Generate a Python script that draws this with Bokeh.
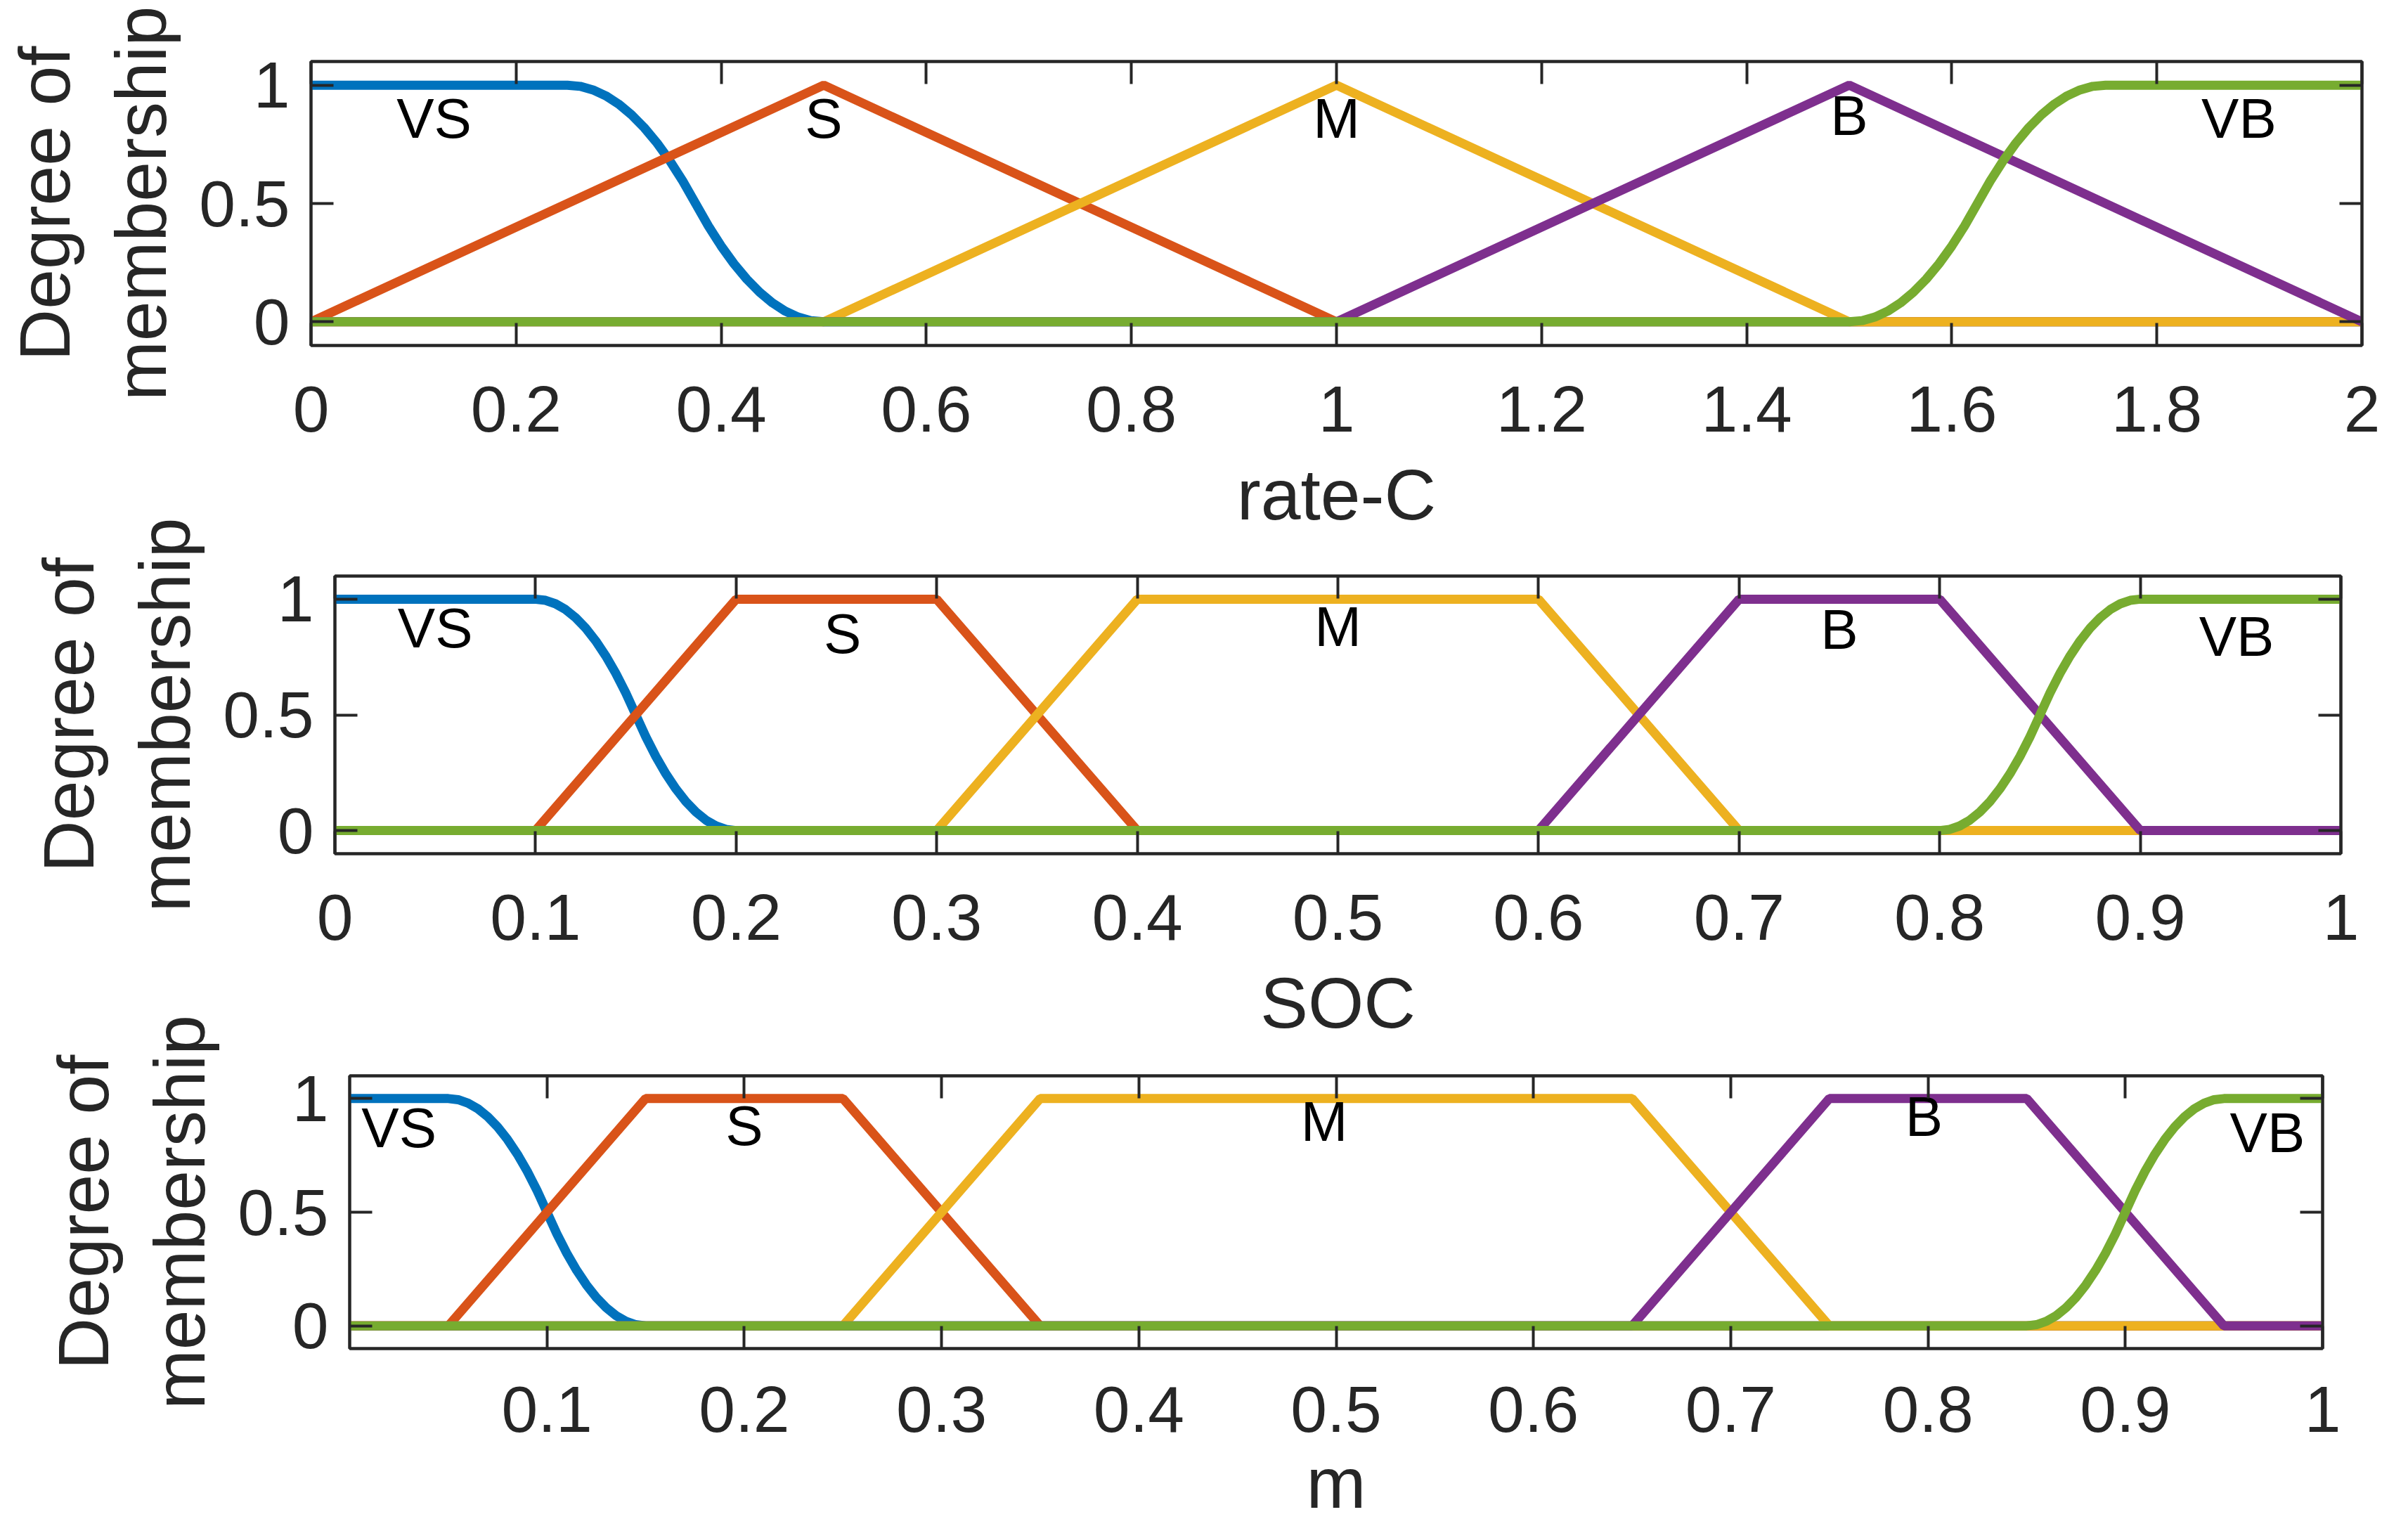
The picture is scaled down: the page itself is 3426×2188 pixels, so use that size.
from bokeh.plotting import figure
from bokeh.models import LinearAxis, FixedTicker, Range1d
from bokeh.embed import file_html
from bokeh.resources import INLINE
from bokeh.core.properties import value

FONT = "Liberation Sans"
AX_COLOR = "#262626"
COLORS = ["#0072BD", "#D95319", "#EDB120", "#7E2F8E", "#77AC30"]
SET_NAMES = ["VS", "S", "M", "B", "VB"]

# ---------------- Panel 1: rate-C ----------------
rate_vs_x = [0, 0.25, 0.2625, 0.275, 0.2875, 0.3, 0.3125, 0.325, 0.3375, 0.35, 0.3625, 0.375,
             0.3875, 0.4, 0.4125, 0.425, 0.4375, 0.45, 0.4625, 0.475, 0.4875, 0.5, 2]
rate_vs_y = [1, 1, 0.995, 0.98, 0.955, 0.92, 0.875, 0.82, 0.755, 0.68, 0.595, 0.5,
             0.405, 0.32, 0.245, 0.18, 0.125, 0.08, 0.045, 0.02, 0.005, 0, 0]
rate_s_x = [0, 0.5, 1, 2]
rate_s_y = [0, 1, 0, 0]
rate_m_x = [0, 0.5, 1, 1.5, 2]
rate_m_y = [0, 0, 1, 0, 0]
rate_b_x = [0, 1, 1.5, 2]
rate_b_y = [0, 0, 1, 0]
rate_vb_x = [0, 1.5, 1.5125, 1.525, 1.5375, 1.55, 1.5625, 1.575, 1.5875, 1.6, 1.6125, 1.625,
             1.6375, 1.65, 1.6625, 1.675, 1.6875, 1.7, 1.7125, 1.725, 1.7375, 1.75, 2]
rate_vb_y = [0, 0, 0.005, 0.02, 0.045, 0.08, 0.125, 0.18, 0.245, 0.32, 0.405, 0.5,
             0.595, 0.68, 0.755, 0.82, 0.875, 0.92, 0.955, 0.98, 0.995, 1, 1]
rate_label_x = [0.12, 0.5, 1.0, 1.5, 1.88]
rate_label_y = [0.86, 0.86, 0.86, 0.87, 0.86]
rate_ticks = [0, 0.2, 0.4, 0.6, 0.8, 1, 1.2, 1.4, 1.6, 1.8, 2]
rate_tick_labels = ["0", "0.2", "0.4", "0.6", "0.8", "1", "1.2", "1.4", "1.6", "1.8", "2"]

# ---------------- Panel 2: SOC ----------------
soc_vs_x = [0, 0.1, 0.105, 0.11, 0.115, 0.12, 0.125, 0.13, 0.135, 0.14, 0.145, 0.15,
            0.155, 0.16, 0.165, 0.17, 0.175, 0.18, 0.185, 0.19, 0.195, 0.2, 1]
soc_vs_y = [1, 1, 0.995, 0.98, 0.955, 0.92, 0.875, 0.82, 0.755, 0.68, 0.595, 0.5,
            0.405, 0.32, 0.245, 0.18, 0.125, 0.08, 0.045, 0.02, 0.005, 0, 0]
soc_s_x = [0, 0.1, 0.2, 0.3, 0.4, 1]
soc_s_y = [0, 0, 1, 1, 0, 0]
soc_m_x = [0, 0.3, 0.4, 0.6, 0.7, 1]
soc_m_y = [0, 0, 1, 1, 0, 0]
soc_b_x = [0, 0.6, 0.7, 0.8, 0.9, 1]
soc_b_y = [0, 0, 1, 1, 0, 0]
soc_vb_x = [0, 0.8, 0.805, 0.81, 0.815, 0.82, 0.825, 0.83, 0.835, 0.84, 0.845, 0.85,
            0.855, 0.86, 0.865, 0.87, 0.875, 0.88, 0.885, 0.89, 0.895, 0.9, 1]
soc_vb_y = [0, 0, 0.005, 0.02, 0.045, 0.08, 0.125, 0.18, 0.245, 0.32, 0.405, 0.5,
            0.595, 0.68, 0.755, 0.82, 0.875, 0.92, 0.955, 0.98, 0.995, 1, 1]
soc_label_x = [0.05, 0.253, 0.5, 0.75, 0.948]
soc_label_y = [0.875, 0.85, 0.88, 0.87, 0.84]
soc_ticks = [0, 0.1, 0.2, 0.3, 0.4, 0.5, 0.6, 0.7, 0.8, 0.9, 1]
soc_tick_labels = ["0", "0.1", "0.2", "0.3", "0.4", "0.5", "0.6", "0.7", "0.8", "0.9", "1"]

# ---------------- Panel 3: m ----------------
m_vs_x = [0, 0.05, 0.055, 0.06, 0.065, 0.07, 0.075, 0.08, 0.085, 0.09, 0.095, 0.1,
          0.105, 0.11, 0.115, 0.12, 0.125, 0.13, 0.135, 0.14, 0.145, 0.15, 1]
m_vs_y = [1, 1, 0.995, 0.98, 0.955, 0.92, 0.875, 0.82, 0.755, 0.68, 0.595, 0.5,
          0.405, 0.32, 0.245, 0.18, 0.125, 0.08, 0.045, 0.02, 0.005, 0, 0]
m_s_x = [0, 0.05, 0.15, 0.25, 0.35, 1]
m_s_y = [0, 0, 1, 1, 0, 0]
m_m_x = [0, 0.25, 0.35, 0.65, 0.75, 1]
m_m_y = [0, 0, 1, 1, 0, 0]
m_b_x = [0, 0.65, 0.75, 0.85, 0.95, 1]
m_b_y = [0, 0, 1, 1, 0, 0]
m_vb_x = [0, 0.85, 0.855, 0.86, 0.865, 0.87, 0.875, 0.88, 0.885, 0.89, 0.895, 0.9,
          0.905, 0.91, 0.915, 0.92, 0.925, 0.93, 0.935, 0.94, 0.945, 0.95, 1]
m_vb_y = [0, 0, 0.005, 0.02, 0.045, 0.08, 0.125, 0.18, 0.245, 0.32, 0.405, 0.5,
          0.595, 0.68, 0.755, 0.82, 0.875, 0.92, 0.955, 0.98, 0.995, 1, 1]
m_label_x = [0.025, 0.2, 0.494, 0.798, 0.972]
m_label_y = [0.87, 0.88, 0.9, 0.92, 0.85]
m_ticks = [0.1, 0.2, 0.3, 0.4, 0.5, 0.6, 0.7, 0.8, 0.9, 1]
m_tick_labels = ["0.1", "0.2", "0.3", "0.4", "0.5", "0.6", "0.7", "0.8", "0.9", "1"]

y_ticks = [0, 0.5, 1]
y_tick_labels = ["0", "0.5", "1"]
Y_LABEL = "Degree of\nmembership"


def style_axis(ax):
    ax.axis_line_color = AX_COLOR
    ax.axis_line_width = 4
    ax.major_tick_line_color = AX_COLOR
    ax.major_tick_line_width = 4
    ax.major_tick_in = 32
    ax.major_tick_out = 0
    ax.minor_tick_line_color = None
    ax.major_label_text_font = FONT
    ax.major_label_text_font_size = "93px"
    ax.major_label_text_color = AX_COLOR
    ax.axis_label_text_font = FONT
    ax.axis_label_text_font_size = "102px"
    ax.axis_label_text_font_style = "normal"
    ax.axis_label_text_color = AX_COLOR


def make_panel(curves_x, curves_y, xr, xticks, xlabels, xlabel, lab_x, lab_y,
               height, b_top, b_bottom, b_left, b_right, margin_top,
               tick_standoff, label_standoff):
    p = figure(width=3400, height=height,
               x_range=Range1d(xr[0], xr[1]), y_range=Range1d(-0.1, 1.1),
               output_backend="svg", toolbar_location=None,
               min_border_top=b_top, min_border_bottom=b_bottom,
               min_border_left=b_left, min_border_right=b_right,
               x_axis_label=xlabel, y_axis_label=Y_LABEL)
    p.margin = (margin_top, 0, 0, 0)
    p.xgrid.visible = False
    p.ygrid.visible = False
    p.outline_line_color = AX_COLOR
    p.outline_line_width = 4
    p.background_fill_color = None
    p.border_fill_color = None

    p.xaxis.ticker = FixedTicker(ticks=xticks)
    p.xaxis.major_label_overrides = dict(zip(xticks, xlabels))
    p.yaxis.ticker = FixedTicker(ticks=y_ticks)
    p.yaxis.major_label_overrides = dict(zip(y_ticks, y_tick_labels))
    for ax in p.xaxis:
        style_axis(ax)
        ax.major_label_standoff = tick_standoff
        ax.axis_label_standoff = label_standoff
    for ax in p.yaxis:
        style_axis(ax)
        ax.major_label_standoff = 30
        ax.axis_label_standoff = 22

    top_ax = LinearAxis(ticker=FixedTicker(ticks=xticks),
                        major_label_overrides={t: "" for t in xticks})
    style_axis(top_ax)
    top_ax.major_label_standoff = 0
    p.add_layout(top_ax, "above")
    right_ax = LinearAxis(ticker=FixedTicker(ticks=y_ticks),
                          major_label_overrides={t: "" for t in y_ticks})
    style_axis(right_ax)
    right_ax.major_label_standoff = 0
    p.add_layout(right_ax, "right")

    for cx, cy, col in zip(curves_x, curves_y, COLORS):
        p.line(cx, cy, line_color=col, line_width=13)

    p.text(x=lab_x, y=lab_y, text=SET_NAMES, text_font=value(FONT),
           text_font_size="80px", text_align="center", text_baseline="middle",
           text_color="black")
    return p


p1 = make_panel([rate_vs_x, rate_s_x, rate_m_x, rate_b_x, rate_vb_x],
                [rate_vs_y, rate_s_y, rate_m_y, rate_b_y, rate_vb_y],
                (0, 2), rate_ticks, rate_tick_labels, "rate-C",
                rate_label_x, rate_label_y,
                851, 87, 360, 442, 40, 0, 58, 30)
p2 = make_panel([soc_vs_x, soc_s_x, soc_m_x, soc_b_x, soc_vb_x],
                [soc_vs_y, soc_s_y, soc_m_y, soc_b_y, soc_vb_y],
                (0, 1), soc_ticks, soc_tick_labels, "SOC",
                soc_label_x, soc_label_y,
                852, 97, 360, 476, 70, -129, 58, 30)
p3 = make_panel([m_vs_x, m_s_x, m_m_x, m_b_x, m_vb_x],
                [m_vs_y, m_s_y, m_m_y, m_b_y, m_vb_y],
                (0, 1), m_ticks, m_tick_labels, "m",
                m_label_x, m_label_y,
                740, 98, 254, 497, 96, -142, 54, 13)

open("out.html", "w").write(file_html([p1, p2, p3], INLINE))
